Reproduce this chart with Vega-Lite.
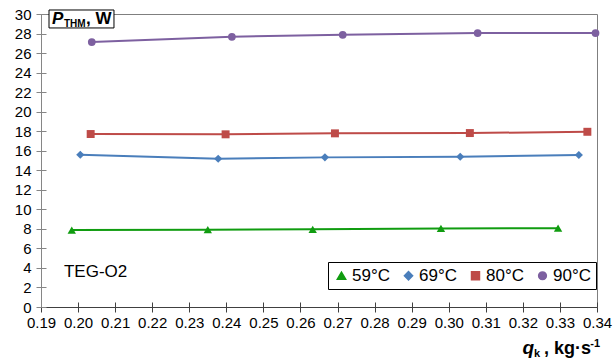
{
  "$schema": "https://vega.github.io/schema/vega-lite/v6.json",
  "width": 556,
  "height": 293,
  "autosize": "none",
  "padding": {"left": 41, "top": 14, "right": 18, "bottom": 53},
  "background": "white",
  "config": {
    "font": "Liberation Sans",
    "view": {"stroke": "#7f7f7f", "strokeWidth": 1},
    "axis": {"grid": false, "labelFont": "Liberation Sans", "labelFontSize": 15, "labelColor": "#000000", "title": null, "labelOverlap": false, "labelFlush": false},
    "axisX": {"tickSize": 5, "labelPadding": 3, "domainColor": "#404040", "tickColor": "#404040"},
    "axisY": {"tickSize": 5, "labelPadding": 5, "domainColor": "#868686", "tickColor": "#868686"}
  },
  "data": {
    "values": [
      {"q": 0.1983, "p": 7.88, "series": "59°C"},
      {"q": 0.2350, "p": 7.91, "series": "59°C"},
      {"q": 0.2633, "p": 7.95, "series": "59°C"},
      {"q": 0.2979, "p": 8.04, "series": "59°C"},
      {"q": 0.3295, "p": 8.07, "series": "59°C"},
      {"q": 0.2006, "p": 15.59, "series": "69°C"},
      {"q": 0.2378, "p": 15.18, "series": "69°C"},
      {"q": 0.2666, "p": 15.32, "series": "69°C"},
      {"q": 0.3031, "p": 15.38, "series": "69°C"},
      {"q": 0.3351, "p": 15.56, "series": "69°C"},
      {"q": 0.2034, "p": 17.71, "series": "80°C"},
      {"q": 0.2398, "p": 17.68, "series": "80°C"},
      {"q": 0.2693, "p": 17.78, "series": "80°C"},
      {"q": 0.3057, "p": 17.81, "series": "80°C"},
      {"q": 0.3374, "p": 17.94, "series": "80°C"},
      {"q": 0.2037, "p": 27.13, "series": "90°C"},
      {"q": 0.2415, "p": 27.67, "series": "90°C"},
      {"q": 0.2714, "p": 27.87, "series": "90°C"},
      {"q": 0.3078, "p": 28.05, "series": "90°C"},
      {"q": 0.3396, "p": 28.05, "series": "90°C"}
    ]
  },
  "resolve": {"axis": {"x": "independent", "y": "independent"}},
  "layer": [
    {
      "mark": {"type": "line", "strokeWidth": 2, "clip": false},
      "encoding": {
        "x": {"field": "q", "type": "quantitative",
          "scale": {"domain": [0.19, 0.34], "nice": false, "zero": false},
          "axis": {"orient": "bottom", "values": [0.19,0.2,0.21,0.22,0.23,0.24,0.25,0.26,0.27,0.28,0.29,0.3,0.31,0.32,0.33,0.34], "format": ".2f"}},
        "y": {"field": "p", "type": "quantitative",
          "scale": {"domain": [0, 30], "nice": false, "zero": true},
          "axis": {"orient": "left", "values": [0,2,4,6,8,10,12,14,16,18,20,22,24,26,28,30]}},
        "color": {"field": "series", "type": "nominal",
          "scale": {"domain": ["59°C", "69°C", "80°C", "90°C"], "range": ["#109c10", "#4a7ebb", "#be4b48", "#7d60a0"]},
          "legend": {"orient": "none", "legendX": 287, "legendY": 248, "direction": "horizontal", "title": null,
            "strokeColor": "#000000", "fillColor": "white", "padding": 5, "labelFontSize": 17, "labelFont": "Liberation Sans",
            "labelColor": "#000000", "symbolSize": 50, "columnPadding": 10, "labelOffset": 2}}
      }
    },
    {
      "mark": {"type": "point", "filled": true, "opacity": 1, "clip": false},
      "encoding": {
        "x": {"field": "q", "type": "quantitative", "axis": {"orient": "bottom", "values": [0.19,0.2,0.21,0.22,0.23,0.24,0.25,0.26,0.27,0.28,0.29,0.3,0.31,0.32,0.33,0.34], "tickSize": -5, "labels": false, "domain": false}},
        "y": {"field": "p", "type": "quantitative", "axis": {"orient": "left", "values": [0,2,4,6,8,10,12,14,16,18,20,22,24,26,28,30], "tickSize": -5, "labels": false, "domain": false}},
        "color": {"field": "series", "type": "nominal"},
        "shape": {"field": "series", "type": "nominal",
          "scale": {"domain": ["59°C", "69°C", "80°C", "90°C"], "range": ["triangle-up", "diamond", "square", "circle"]}},
        "size": {"field": "series", "type": "nominal",
          "scale": {"domain": ["59°C", "69°C", "80°C", "90°C"], "range": [70, 60, 60, 45]}, "legend": null}
      }
    },
    {
      "data": {"values": [{"label": "TEG-O2"}]},
      "mark": {"type": "text", "align": "left", "baseline": "middle", "fontSize": 17, "font": "Liberation Sans", "color": "#000000", "clip": false},
      "encoding": {"x": {"datum": 0.1962, "type": "quantitative", "axis": null}, "y": {"datum": 3.6, "type": "quantitative", "axis": null}, "text": {"field": "label"}}
    },
    {
      "data": {"values": [{"a": 1}]},
      "mark": {"type": "rect", "fill": "white", "stroke": "#000000", "strokeWidth": 1, "clip": false},
      "encoding": {"x": {"datum": 0.19216, "type": "quantitative", "axis": null}, "x2": {"datum": 0.20969}, "y": {"datum": 30.41, "type": "quantitative", "axis": null}, "y2": {"datum": 28.57}}
    },
    {
      "data": {"values": [{"t": "P"}, {"t": "THM"}, {"t": ", W"}]},
      "layer": [
        {"transform": [{"filter": "datum.t === 'P'"}],
         "mark": {"type": "text", "align": "left", "baseline": "alphabetic", "fontWeight": "bold", "fontStyle": "italic", "fontSize": 17, "dx": 11, "dy": 10, "color": "#000000", "clip": false},
         "encoding": {"x": {"datum": 0.19, "type": "quantitative", "axis": null}, "y": {"datum": 30, "type": "quantitative", "axis": null}, "text": {"field": "t"}}},
        {"transform": [{"filter": "datum.t === 'THM'"}],
         "mark": {"type": "text", "align": "left", "baseline": "alphabetic", "fontWeight": "bold", "fontSize": 10, "dx": 23, "dy": 13, "color": "#000000", "clip": false},
         "encoding": {"x": {"datum": 0.19, "type": "quantitative", "axis": null}, "y": {"datum": 30, "type": "quantitative", "axis": null}, "text": {"field": "t"}}},
        {"transform": [{"filter": "datum.t === ', W'"}],
         "mark": {"type": "text", "align": "left", "baseline": "alphabetic", "fontWeight": "bold", "fontSize": 17, "dx": 45, "dy": 10, "color": "#000000", "clip": false},
         "encoding": {"x": {"datum": 0.19, "type": "quantitative", "axis": null}, "y": {"datum": 30, "type": "quantitative", "axis": null}, "text": {"field": "t"}}}
      ]
    },
    {
      "data": {"values": [{"t": "q"}, {"t": "k"}, {"t": ", kg·s"}, {"t": "-1"}]},
      "layer": [
        {"transform": [{"filter": "datum.t === 'q'"}],
         "mark": {"type": "text", "align": "right", "baseline": "alphabetic", "fontWeight": "bold", "fontStyle": "italic", "fontSize": 19, "dx": -63, "dy": 47, "color": "#000000", "clip": false},
         "encoding": {"x": {"datum": 0.34, "type": "quantitative", "axis": null}, "y": {"datum": 0, "type": "quantitative", "axis": null}, "text": {"field": "t"}}},
        {"transform": [{"filter": "datum.t === 'k'"}],
         "mark": {"type": "text", "align": "right", "baseline": "alphabetic", "fontWeight": "bold", "fontSize": 11, "dx": -57, "dy": 50, "color": "#000000", "clip": false},
         "encoding": {"x": {"datum": 0.34, "type": "quantitative", "axis": null}, "y": {"datum": 0, "type": "quantitative", "axis": null}, "text": {"field": "t"}}},
        {"transform": [{"filter": "datum.t === ', kg·s'"}],
         "mark": {"type": "text", "align": "right", "baseline": "alphabetic", "fontWeight": "bold", "fontSize": 18, "dx": -6, "dy": 47, "color": "#000000", "clip": false},
         "encoding": {"x": {"datum": 0.34, "type": "quantitative", "axis": null}, "y": {"datum": 0, "type": "quantitative", "axis": null}, "text": {"field": "t"}}},
        {"transform": [{"filter": "datum.t === '-1'"}],
         "mark": {"type": "text", "align": "right", "baseline": "alphabetic", "fontWeight": "bold", "fontSize": 11, "dx": 3, "dy": 40, "color": "#000000", "clip": false},
         "encoding": {"x": {"datum": 0.34, "type": "quantitative", "axis": null}, "y": {"datum": 0, "type": "quantitative", "axis": null}, "text": {"field": "t"}}}
      ]
    }
  ]
}
